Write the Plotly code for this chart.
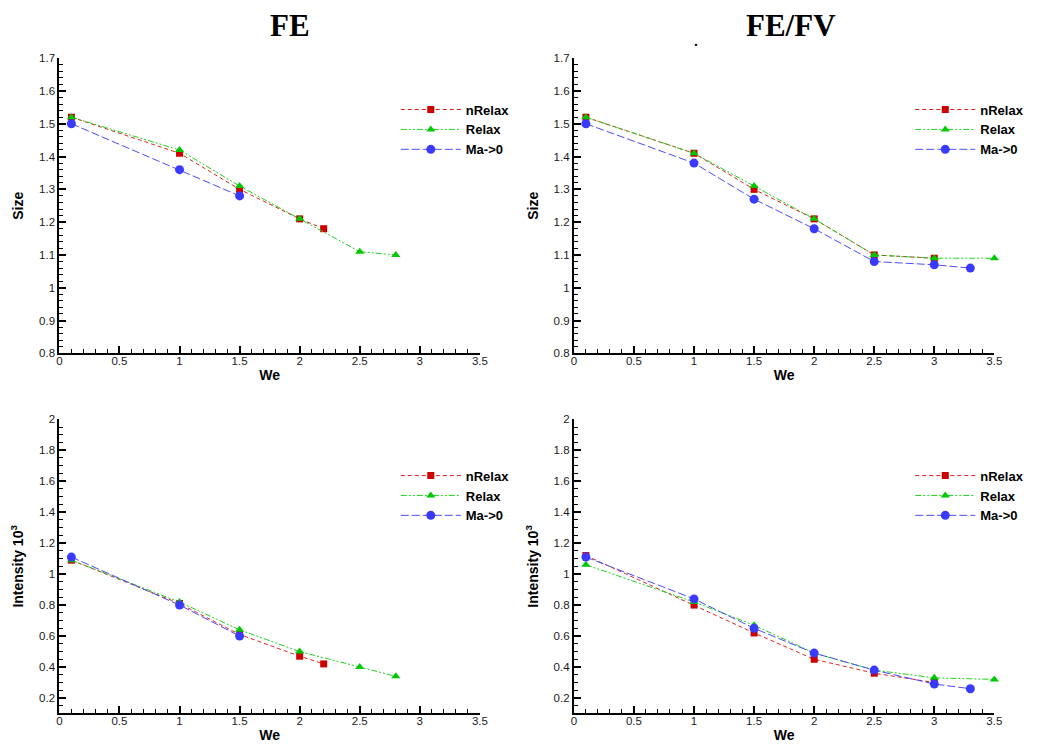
import plotly.graph_objects as go

W, H = 1037, 749

# ---------------- data ----------------
series_names = ["nRelax", "Relax", "Ma->0"]

# FE : Size
fe_size_nrelax_x = [0.1, 1, 1.5, 2, 2.2]
fe_size_nrelax_y = [1.52, 1.41, 1.30, 1.21, 1.18]
fe_size_relax_x = [0.1, 1, 1.5, 2, 2.5, 2.8]
fe_size_relax_y = [1.52, 1.42, 1.31, 1.21, 1.11, 1.10]
fe_size_ma0_x = [0.1, 1, 1.5]
fe_size_ma0_y = [1.50, 1.36, 1.28]

# FE/FV : Size
fefv_size_nrelax_x = [0.1, 1, 1.5, 2, 2.5, 3]
fefv_size_nrelax_y = [1.52, 1.41, 1.30, 1.21, 1.10, 1.09]
fefv_size_relax_x = [0.1, 1, 1.5, 2, 2.5, 3, 3.5]
fefv_size_relax_y = [1.52, 1.41, 1.31, 1.21, 1.10, 1.09, 1.09]
fefv_size_ma0_x = [0.1, 1, 1.5, 2, 2.5, 3, 3.3]
fefv_size_ma0_y = [1.50, 1.38, 1.27, 1.18, 1.08, 1.07, 1.06]

# FE : Intensity
fe_int_nrelax_x = [0.1, 1, 1.5, 2, 2.2]
fe_int_nrelax_y = [1.09, 0.81, 0.61, 0.47, 0.42]
fe_int_relax_x = [0.1, 1, 1.5, 2, 2.5, 2.8]
fe_int_relax_y = [1.09, 0.82, 0.64, 0.50, 0.40, 0.34]
fe_int_ma0_x = [0.1, 1, 1.5]
fe_int_ma0_y = [1.11, 0.80, 0.60]

# FE/FV : Intensity
fefv_int_nrelax_x = [0.1, 1, 1.5, 2, 2.5, 3]
fefv_int_nrelax_y = [1.12, 0.80, 0.62, 0.45, 0.36, 0.30]
fefv_int_relax_x = [0.1, 1, 1.5, 2, 2.5, 3, 3.5]
fefv_int_relax_y = [1.06, 0.82, 0.67, 0.49, 0.38, 0.33, 0.32]
fefv_int_ma0_x = [0.1, 1, 1.5, 2, 2.5, 3, 3.3]
fefv_int_ma0_y = [1.11, 0.84, 0.65, 0.49, 0.38, 0.29, 0.26]

titles = ["FE", "FE/FV"]
x_title = "We"
y_titles = ["Size", "Intensity 10<sup>3</sup>"]

# ---------------- styling ----------------
styles = [
    dict(color="#cc0000", line_color="#e02020", symbol="square", size=7, dash="4px,3px"),
    dict(color="#00c800", line_color="#20d020", symbol="triangle-up", size=8, dash="6px,2px,2px,2px,2px,2px"),
    dict(color="#3a3aff", line_color="#4a4aff", symbol="circle", size=9, dash="8px,3px"),
]

panels = [
    ("", "legend", [(fe_size_nrelax_x, fe_size_nrelax_y), (fe_size_relax_x, fe_size_relax_y), (fe_size_ma0_x, fe_size_ma0_y)]),
    ("2", "legend2", [(fefv_size_nrelax_x, fefv_size_nrelax_y), (fefv_size_relax_x, fefv_size_relax_y), (fefv_size_ma0_x, fefv_size_ma0_y)]),
    ("3", "legend3", [(fe_int_nrelax_x, fe_int_nrelax_y), (fe_int_relax_x, fe_int_relax_y), (fe_int_ma0_x, fe_int_ma0_y)]),
    ("4", "legend4", [(fefv_int_nrelax_x, fefv_int_nrelax_y), (fefv_int_relax_x, fefv_int_relax_y), (fefv_int_ma0_x, fefv_int_ma0_y)]),
]

fig = go.Figure()
for suffix, leg, data in panels:
    for (xs, ys), name, st in zip(data, series_names, styles):
        fig.add_trace(go.Scatter(
            x=xs, y=ys, name=name, mode="lines+markers",
            xaxis="x" + suffix, yaxis="y" + suffix, legend=leg,
            line=dict(color=st["line_color"], width=1, dash=st["dash"]),
            marker=dict(color=st["color"], symbol=st["symbol"], size=st["size"], line=dict(width=0)),
            cliponaxis=False,
        ))

def px_x(p):
    return p / W

def px_y(p):
    return 1 - p / H

tick_font = dict(family="Arial, Liberation Sans, sans-serif", size=11.5, color="#1a1a1a")
title_font = dict(family="Arial, Liberation Sans, sans-serif", size=14, color="black", weight="bold")

def xaxis(domain, anchor):
    return dict(domain=domain, anchor=anchor, range=[0, 3.5], tick0=0, dtick=0.5,
                showline=True, linecolor="black", linewidth=2, ticks="inside", ticklen=7,
                tickwidth=1.5, tickcolor="black", showgrid=False, zeroline=False,
                tickfont=tick_font, ticklabelstandoff=-4,
                minor=dict(ticks="inside", ticklen=4, tickwidth=1, tickcolor="black", dtick=0.1, showgrid=False),
                title=dict(text=x_title, font=title_font, standoff=4))

def yaxis(domain, anchor, rng, dtick, mdtick, title):
    return dict(domain=domain, anchor=anchor, range=rng, tick0=0, dtick=dtick,
                showline=True, linecolor="black", linewidth=2, ticks="inside", ticklen=7,
                tickwidth=1.5, tickcolor="black", showgrid=False, zeroline=False,
                tickfont=tick_font,
                minor=dict(ticks="inside", ticklen=4, tickwidth=1, tickcolor="black", dtick=mdtick, showgrid=False),
                title=dict(text=title, font=title_font, standoff=12))

xl = [px_x(57), px_x(482)]
xr = [px_x(577), px_x(1002)]
yt = [px_y(353), px_y(53)]
yb = [px_y(719), px_y(420)]

legend_font = dict(family="Arial, Liberation Sans, sans-serif", size=13, color="black", weight="bold")

def legend(xp, yp):
    return dict(x=px_x(xp), y=px_y(yp), xanchor="left", yanchor="top",
                bgcolor="rgba(0,0,0,0)", font=legend_font, itemwidth=60,
                tracegroupgap=0)

title_annot_font = dict(family="Liberation Serif, Times New Roman, serif", size=31, color="black")

fig.update_layout(
    width=W, height=H,
    margin=dict(l=0, r=0, t=0, b=0),
    paper_bgcolor="white", plot_bgcolor="white",
    showlegend=True,
    xaxis=xaxis(xl, "y"), yaxis=yaxis(yt, "x", [0.8, 1.7], 0.1, 0.02, y_titles[0]),
    xaxis2=xaxis(xr, "y2"), yaxis2=yaxis(yt, "x2", [0.8, 1.7], 0.1, 0.02, y_titles[0]),
    xaxis3=xaxis(xl, "y3"), yaxis3=yaxis(yb, "x3", [0.1, 2.0], 0.2, 0.05, y_titles[1]),
    xaxis4=xaxis(xr, "y4"), yaxis4=yaxis(yb, "x4", [0.1, 2.0], 0.2, 0.05, y_titles[1]),
    legend=legend(397, 90),
    legend2=legend(917, 90),
    legend3=legend(397, 462),
    legend4=legend(917, 462),
    annotations=[
        dict(text="<b>" + titles[0] + "</b>", x=px_x(290), y=px_y(20), xref="paper", yref="paper",
             xanchor="center", yanchor="middle", showarrow=False, font=title_annot_font),
        dict(text="<b>" + titles[1] + "</b>", x=px_x(796), y=px_y(20), xref="paper", yref="paper",
             xanchor="center", yanchor="middle", showarrow=False, font=title_annot_font),
        dict(text="<b>.</b>", x=px_x(700), y=px_y(36), xref="paper", yref="paper",
             xanchor="center", yanchor="middle", showarrow=False,
             font=dict(family="Arial, Liberation Sans, sans-serif", size=14, color="black")),
    ],
)

fig.write_html("out.html")
